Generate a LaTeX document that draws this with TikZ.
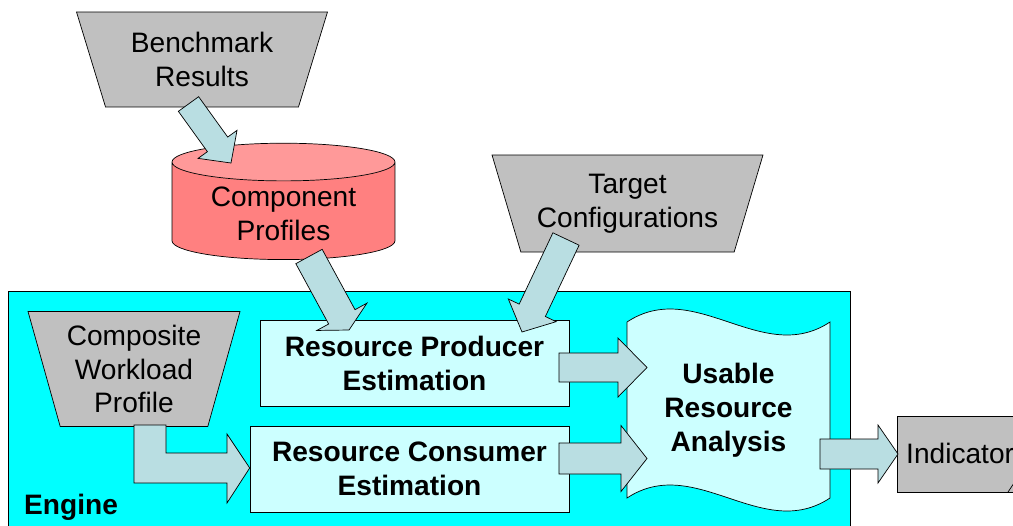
\documentclass[tikz,border=0pt]{standalone}
\usepackage{fontspec}
\setmainfont{Liberation Sans}
\usetikzlibrary{shapes.geometric,% trapezium and cylinder nodes
calc}
\definecolor{inputgray}{RGB}{192,192,192}
\definecolor{arrowblue}{RGB}{185,222,226}
\definecolor{enginecyan}{RGB}{0,255,255}
\definecolor{boxcyan}{RGB}{204,255,255}
\definecolor{profbody}{RGB}{255,128,128}
\definecolor{proftop}{RGB}{255,153,153}
\tikzset{every node/.style={font=\fontsize{16}{19.3}\selectfont, align=center},
  inputshape/.style={trapezium, shape border rotate=180, trapezium stretches body,
    draw, fill=inputgray, inner sep=0pt},
  estbox/.style={draw, fill=boxcyan, font=\fontsize{16}{19.3}\selectfont\bfseries},
  blockarrow/.style={draw, fill=arrowblue, line join=miter}}
% block arrow: from, to, half shaft width, half head width, head length
\newcommand{\blockarrow}[5]{%
  \coordinate (ah) at ($(#2)!#5!(#1)$);
  \draw[blockarrow] ($(#1)!#3!90:(#2)$) -- ($(ah)!#3!-90:(#1)$) -- ($(ah)!#4!-90:(#1)$)
    -- (#2) -- ($(ah)!#4!90:(#1)$) -- ($(ah)!#3!90:(#1)$) -- ($(#1)!#3!-90:(#2)$) -- cycle;}

\begin{document}
\begin{tikzpicture}[x=0.02cm,y=-0.02cm]
  \useasboundingbox (0,0) rectangle (1013,525);
  \clip (0,0) rectangle (1013,525);
  % engine frame
  \draw[fill=enginecyan] (8,291) rectangle (850,545);
  \node[anchor=west, font=\fontsize{16}{19.3}\selectfont\bfseries] (engine) at (18,507) {Engine};

  % inputs
  \node[inputshape, trapezium left angle=62, trapezium right angle=62,
    minimum width=5.02cm, minimum height=1.9cm] (bench) at (202,59.5) {Benchmark\\Results};
  \node[inputshape, trapezium left angle=64, trapezium right angle=64,
    minimum width=5.42cm, minimum height=1.94cm] (target) at (627.5,203.5) {Target\\Configurations};
  \node[inputshape, trapezium left angle=70, trapezium right angle=70,
    minimum width=4.24cm, minimum height=2.3cm] (workload) at (134,369) {Composite\\Workload\\Profile};

  \node[cylinder, shape border rotate=90, aspect=0.24, draw, cylinder uses custom fill,
    cylinder body fill=profbody, cylinder end fill=proftop,
    minimum width=4.46cm, minimum height=2.16cm] (profiles) at (283.5,214) {Component\\Profiles};

  % estimation boxes
  \node[estbox, minimum width=6.18cm, minimum height=1.72cm] (producer) at (414.5,363) {Resource Producer\\Estimation};
  \node[estbox, minimum width=6.38cm, minimum height=1.72cm] (consumer) at (409.5,469) {Resource Consumer\\Estimation};

  % usable resource analysis
  \draw[fill=boxcyan] (627,322) .. controls (695,277) and (762,367) .. (830,322)
    -- (830,498) .. controls (762,543) and (695,453) .. (627,498) -- cycle;
  \node[font=\fontsize{16}{19.5}\selectfont\bfseries] (usable) at (728.5,410) {Usable\\Resource\\Analysis};

  % indicators
  \draw[fill=inputgray] (897,416) rectangle (1030,492);
  \draw (1008,492) -- (1014,483);
  \node[anchor=west] (indicator) at (900,453) {Indicator};

  % connectors
  \coordinate (benchout) at (188.5,104);
  \coordinate (profin) at (231,163);
  \coordinate (profout) at (309,256.5);
  \coordinate (prodin1) at (349,330);
  \coordinate (targout) at (566,239);
  \coordinate (prodin2) at (522,332);
  \blockarrow{benchout}{profin}{0.25cm}{0.48cm}{0.46cm}
  \blockarrow{profout}{prodin1}{0.3cm}{0.57cm}{0.3cm}
  \blockarrow{targout}{prodin2}{0.29cm}{0.53cm}{0.48cm}
  \coordinate (prodout) at (559,367.5);
  \coordinate (usein1) at (647,367.5);
  \coordinate (consout) at (559,458.5);
  \coordinate (usein2) at (647,458.5);
  \coordinate (useout) at (820,454);
  \coordinate (indin) at (898,454);
  \blockarrow{prodout}{usein1}{0.29cm}{0.59cm}{0.58cm}
  \blockarrow{consout}{usein2}{0.31cm}{0.66cm}{0.52cm}
  \blockarrow{useout}{indin}{0.3cm}{0.58cm}{0.4cm}
  % workload to consumer, bent
  \draw[blockarrow] (134,425) -- (166,425) -- (166,453) -- (227,453) -- (227,434)
    -- (consumer.west |- 0,468) -- (227,503) -- (227,483) -- (134,483) -- cycle;
\end{tikzpicture}
\end{document}
